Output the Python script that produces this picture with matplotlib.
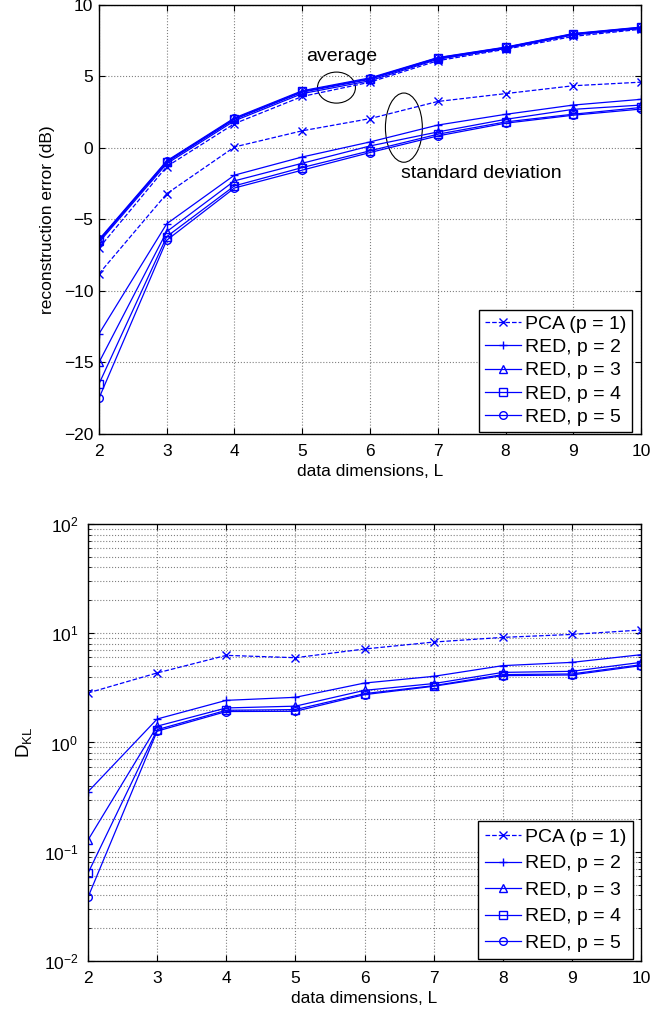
import matplotlib
matplotlib.use('Agg')
import matplotlib.pyplot as plt
from matplotlib.patches import Ellipse
from matplotlib.ticker import LogLocator, NullFormatter

plt.rcParams['font.family'] = ['Liberation Sans', 'DejaVu Sans']
plt.rcParams['font.size'] = 12.5
plt.rcParams['mathtext.fontset'] = 'custom'
plt.rcParams['mathtext.rm'] = 'Liberation Sans'
plt.rcParams['mathtext.it'] = 'Liberation Sans'

# Данные
L = [2, 3, 4, 5, 6, 7, 8, 9, 10]
labels = ['PCA (p = 1)', 'RED, p = 2', 'RED, p = 3', 'RED, p = 4', 'RED, p = 5']
markers = ['x', '+', '^', 's', 'o']
styles = ['--', '-', '-', '-', '-']

# ошибка реконструкции: среднее (dB)
avg_pca = [-7.0, -1.3, 1.7, 3.6, 4.6, 6.1, 6.9, 7.8, 8.3]
avg_p2 = [-6.6, -1.1, 1.9, 3.8, 4.7, 6.2, 6.95, 7.9, 8.35]
avg_p3 = [-6.5, -1.0, 2.0, 3.9, 4.8, 6.25, 7.0, 7.95, 8.4]
avg_p4 = [-6.45, -0.95, 2.05, 3.95, 4.85, 6.3, 7.03, 7.98, 8.43]
avg_p5 = [-6.4, -0.9, 2.1, 4.0, 4.9, 6.32, 7.05, 8.0, 8.45]

# ошибка реконструкции: стандартное отклонение (dB)
std_pca = [-8.8, -3.2, 0.07, 1.2, 2.05, 3.25, 3.8, 4.35, 4.6]
std_p2 = [-13.0, -5.3, -1.9, -0.63, 0.42, 1.6, 2.35, 3.0, 3.4]
std_p3 = [-15.0, -5.85, -2.3, -1.07, 0.14, 1.12, 2.0, 2.7, 3.0]
std_p4 = [-16.5, -6.2, -2.65, -1.37, -0.2, 0.96, 1.82, 2.36, 2.83]
std_p5 = [-17.5, -6.45, -2.8, -1.55, -0.32, 0.84, 1.73, 2.29, 2.72]

# D_KL
dkl_pca = [2.84, 4.33, 6.27, 5.97, 7.17, 8.3, 9.16, 9.75, 10.7]
dkl_p2 = [0.354, 1.64, 2.43, 2.59, 3.5, 4.03, 5.05, 5.41, 6.36]
dkl_p3 = [0.128, 1.41, 2.07, 2.15, 3.0, 3.46, 4.38, 4.48, 5.41]
dkl_p4 = [0.0637, 1.31, 1.97, 2.0, 2.8, 3.31, 4.18, 4.24, 5.15]
dkl_p5 = [0.0384, 1.27, 1.92, 1.93, 2.74, 3.27, 4.09, 4.15, 5.05]

avg_all = [avg_pca, avg_p2, avg_p3, avg_p4, avg_p5]
std_all = [std_pca, std_p2, std_p3, std_p4, std_p5]
dkl_all = [dkl_pca, dkl_p2, dkl_p3, dkl_p4, dkl_p5]

fig = plt.figure(figsize=(6.72, 10.09), dpi=100)
ax1 = fig.add_axes([0.1473, 0.5699, 0.8066, 0.4252])
ax2 = fig.add_axes([0.1310, 0.0476, 0.8229, 0.4331])


def style_axes(ax, ypad):
    ax.tick_params(direction='in', top=True, right=True, which='both', labelsize=12.5)
    ax.tick_params(which='major', length=4)
    ax.tick_params(axis='x', which='major', pad=7.5)
    ax.tick_params(axis='y', which='major', pad=ypad)
    ax.tick_params(which='minor', length=2)
    for s in ax.spines.values():
        s.set_linewidth(1.0)
    ax.grid(True, which='major', linestyle=':', color='0.5', linewidth=0.8)


# Верхний график
for ys, yd, m, ls, lab in zip(avg_all, std_all, markers, styles, labels):
    ax1.plot(L, ys, color='blue', linestyle=ls, marker=m, markersize=5.5,
             markerfacecolor='none', linewidth=0.9)
    ax1.plot(L, yd, color='blue', linestyle=ls, marker=m, markersize=5.5,
             markerfacecolor='none', linewidth=0.9, label=lab)

ax1.set_xlim(2, 10)
ax1.set_ylim(-20, 10)
ax1.set_xticks(L)
ax1.set_yticks([-20, -15, -10, -5, 0, 5, 10])
ax1.set_xlabel('data dimensions, L', fontsize=12.5, labelpad=3)
ax1.set_ylabel('reconstruction error (dB)', fontsize=12.5, labelpad=6.5)
style_axes(ax1, 4)

ax1.add_patch(Ellipse((5.505, 4.22), 0.56, 2.17, fill=False, edgecolor='black', linewidth=0.8))
ax1.add_patch(Ellipse((6.5, 1.42), 0.545, 4.84, fill=False, edgecolor='black', linewidth=0.8))
ax1.text(5.58, 6.36, 'average', ha='center', va='center', fontsize=14)
ax1.text(7.65, -1.77, 'standard deviation', ha='center', va='center', fontsize=14)

leg1 = ax1.legend(loc='lower right', bbox_to_anchor=(0.983, 0.005), fontsize=14,
                  handlelength=1.85, fancybox=False, edgecolor='black', framealpha=1,
                  borderaxespad=0, labelspacing=0.29, handletextpad=0.2, borderpad=0.3)
leg1.get_frame().set_linewidth(1.0)

# Нижний график
for yk, m, ls, lab in zip(dkl_all, markers, styles, labels):
    ax2.plot(L, yk, color='blue', linestyle=ls, marker=m, markersize=5.5,
             markerfacecolor='none', linewidth=0.9, label=lab)

ax2.set_yscale('log')
ax2.set_xlim(2, 10)
ax2.set_ylim(1e-2, 1e2)
ax2.set_xticks(L)
ax2.yaxis.set_major_locator(LogLocator(base=10, numticks=10))
ax2.yaxis.set_minor_locator(LogLocator(base=10, subs=range(2, 10), numticks=50))
ax2.yaxis.set_minor_formatter(NullFormatter())
ax2.set_xlabel('data dimensions, L', fontsize=12.5, labelpad=3)
ax2.set_ylabel(r'D$_{\mathrm{KL}}$', fontsize=13.5, labelpad=7)
style_axes(ax2, 7)
ax2.grid(True, which='minor', axis='y', linestyle=':', color='0.5', linewidth=0.8)

leg2 = ax2.legend(loc='lower right', bbox_to_anchor=(0.9855, 0.005), fontsize=14,
                  handlelength=1.85, fancybox=False, edgecolor='black', framealpha=1,
                  borderaxespad=0, labelspacing=0.46, handletextpad=0.2, borderpad=0.35)
leg2.get_frame().set_linewidth(1.0)

fig.savefig('out.png', dpi=100)
